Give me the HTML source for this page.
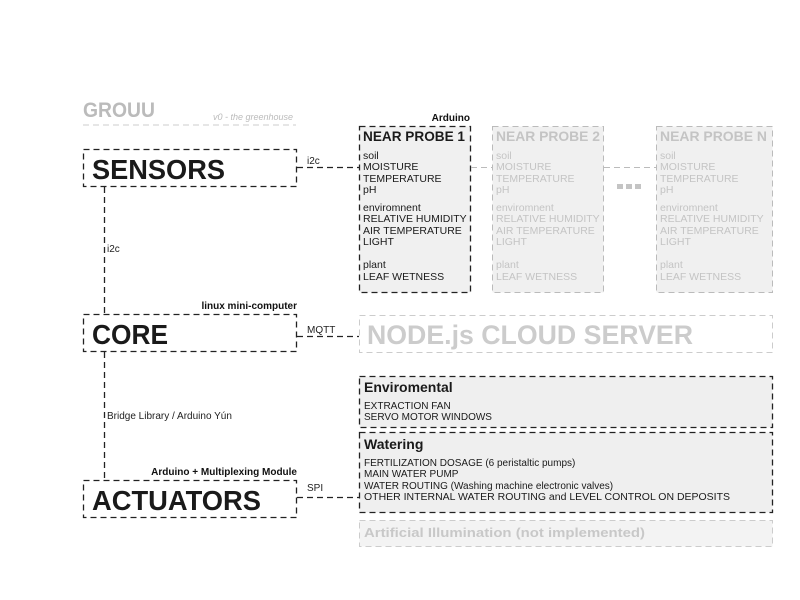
<!DOCTYPE html>
<html><head><meta charset="utf-8"><style>
html,body{margin:0;padding:0;background:#fff;width:800px;height:600px;overflow:hidden}
text{font-family:"Liberation Sans",sans-serif}
</style></head><body>
<svg width="800" height="600" viewBox="0 0 800 600" xmlns="http://www.w3.org/2000/svg">
<g fill="none" stroke-dasharray="6,4" stroke-width="1.3">
 <!-- header -->
 <line x1="83" y1="125" x2="296" y2="125" stroke="#ccc" stroke-width="1"/>
 <!-- probes -->
 <rect x="359.5" y="126.5" width="111" height="166" fill="#f0f0f0" stroke="#222"/>
 <rect x="492.5" y="126.5" width="111" height="166" fill="#f0f0f0" stroke="#bbb" stroke-width="1"/>
 <rect x="656.5" y="126.5" width="116" height="166" fill="#f0f0f0" stroke="#bbb" stroke-width="1"/>
 <line x1="471" y1="167.5" x2="492" y2="167.5" stroke="#bbb" stroke-width="1"/>
 <line x1="604" y1="167.5" x2="656" y2="167.5" stroke="#bbb" stroke-width="1"/>
 <!-- main boxes -->
 <rect x="83.5" y="149.5" width="213" height="37" stroke="#222"/>
 <rect x="83.5" y="314.5" width="213" height="37" stroke="#222"/>
 <rect x="83.5" y="480.5" width="213" height="37" stroke="#222"/>
 <line x1="297" y1="167.5" x2="359" y2="167.5" stroke="#222"/>
 <line x1="297" y1="336.5" x2="359" y2="336.5" stroke="#222"/>
 <line x1="297" y1="497.5" x2="359" y2="497.5" stroke="#222"/>
 <line x1="104.5" y1="187" x2="104.5" y2="314" stroke="#222"/>
 <line x1="104.5" y1="352" x2="104.5" y2="480" stroke="#222"/>
 <!-- right side -->
 <rect x="359.5" y="315.5" width="413" height="37" stroke="#ccc" stroke-width="1"/>
 <rect x="359.5" y="376.5" width="413" height="51" fill="#efefef" stroke="#222"/>
 <rect x="359.5" y="432.5" width="413" height="80" fill="#efefef" stroke="#222"/>
 <rect x="359.5" y="520.5" width="413" height="26" fill="#f3f3f3" stroke="#ccc" stroke-width="1"/>
</g>
<!-- header text -->
<text x="83" y="117" font-size="21" font-weight="bold" fill="#bbb" textLength="72" lengthAdjust="spacingAndGlyphs">GROUU</text>
<text x="213" y="120" font-size="9" font-style="italic" fill="#bbb">v0 - the greenhouse</text>
<!-- main labels -->
<g font-weight="bold" fill="#1a1a1a" font-size="28">
 <text x="92" y="179" textLength="133" lengthAdjust="spacingAndGlyphs">SENSORS</text>
 <text x="92" y="344" textLength="76" lengthAdjust="spacingAndGlyphs">CORE</text>
 <text x="92" y="510" textLength="169" lengthAdjust="spacingAndGlyphs">ACTUATORS</text>
</g>
<g font-size="10" font-weight="bold" fill="#111" text-anchor="end">
 <text x="470" y="121">Arduino</text>
 <text x="297" y="309">linux mini-computer</text>
 <text x="297" y="475">Arduino + Multiplexing Module</text>
</g>
<g font-size="10" fill="#222">
 <text x="307" y="164">i2c</text>
 <text x="107" y="252">i2c</text>
 <text x="307" y="333">MQTT</text>
 <text x="107" y="419">Bridge Library / Arduino Yún</text>
 <text x="307" y="491">SPI</text>
</g>
<!-- probes -->
<g font-size="10.5">
 <g fill="#1a1a1a">
  <text x="363" y="141" font-size="14" font-weight="bold" textLength="102" lengthAdjust="spacingAndGlyphs">NEAR PROBE 1</text>
  <text x="363" y="159">soil</text><text x="363" y="170">MOISTURE</text><text x="363" y="182">TEMPERATURE</text><text x="363" y="193">pH</text>
  <text x="363" y="211">enviromnent</text><text x="363" y="222">RELATIVE HUMIDITY</text><text x="363" y="234">AIR TEMPERATURE</text><text x="363" y="245">LIGHT</text>
  <text x="363" y="268">plant</text><text x="363" y="280">LEAF WETNESS</text>
 </g>
 <g fill="#c4c4c4">
  <text x="496" y="141" font-size="14" font-weight="bold" textLength="104" lengthAdjust="spacingAndGlyphs">NEAR PROBE 2</text>
  <text x="496" y="159">soil</text><text x="496" y="170">MOISTURE</text><text x="496" y="182">TEMPERATURE</text><text x="496" y="193">pH</text>
  <text x="496" y="211">enviromnent</text><text x="496" y="222">RELATIVE HUMIDITY</text><text x="496" y="234">AIR TEMPERATURE</text><text x="496" y="245">LIGHT</text>
  <text x="496" y="268">plant</text><text x="496" y="280">LEAF WETNESS</text>
  <text x="660" y="141" font-size="14" font-weight="bold" textLength="107" lengthAdjust="spacingAndGlyphs">NEAR PROBE N</text>
  <text x="660" y="159">soil</text><text x="660" y="170">MOISTURE</text><text x="660" y="182">TEMPERATURE</text><text x="660" y="193">pH</text>
  <text x="660" y="211">enviromnent</text><text x="660" y="222">RELATIVE HUMIDITY</text><text x="660" y="234">AIR TEMPERATURE</text><text x="660" y="245">LIGHT</text>
  <text x="660" y="268">plant</text><text x="660" y="280">LEAF WETNESS</text>
 </g>
</g>
<g fill="#c4c4c4"><rect x="617" y="184" width="6" height="5"/><rect x="626" y="184" width="6" height="5"/><rect x="635" y="184" width="6" height="5"/></g>
<!-- right side text -->
<text x="367" y="344" font-size="27" font-weight="bold" fill="#ccc" textLength="326" lengthAdjust="spacingAndGlyphs">NODE.js CLOUD SERVER</text>
<g fill="#1a1a1a">
 <text x="364" y="392" font-size="14" font-weight="bold">Enviromental</text>
 <g font-size="10"><text x="364" y="409">EXTRACTION FAN</text><text x="364" y="420">SERVO MOTOR WINDOWS</text></g>
 <text x="364" y="449" font-size="14" font-weight="bold">Watering</text>
 <g font-size="10">
  <text x="364" y="466">FERTILIZATION DOSAGE (6 peristaltic pumps)</text>
  <text x="364" y="477">MAIN WATER PUMP</text>
  <text x="364" y="489">WATER ROUTING (Washing machine electronic valves)</text>
  <text x="364" y="500" textLength="366" lengthAdjust="spacingAndGlyphs">OTHER INTERNAL WATER ROUTING and LEVEL CONTROL ON DEPOSITS</text>
 </g>
</g>
<text x="364" y="537" font-size="13" font-weight="bold" fill="#c8c8c8" textLength="281" lengthAdjust="spacingAndGlyphs">Artificial Illumination (not implemented)</text>
</svg>
</body></html>
